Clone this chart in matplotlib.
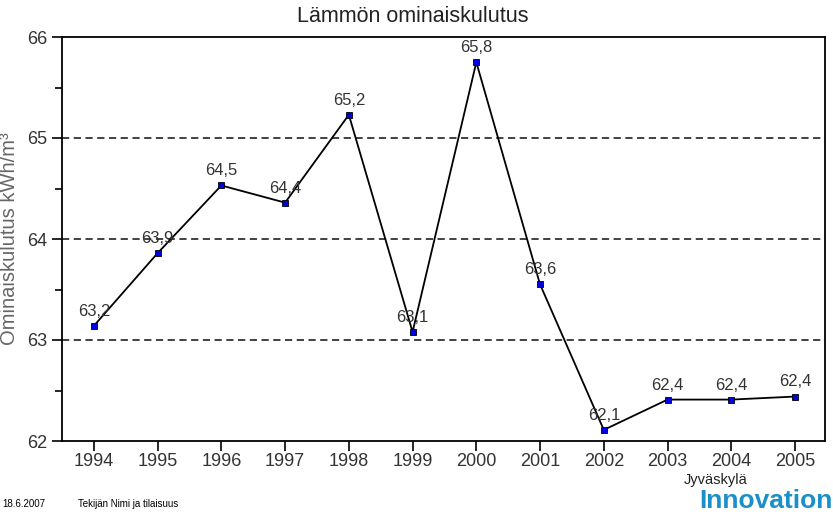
import matplotlib
matplotlib.use("Agg")
import matplotlib.pyplot as plt
from matplotlib.ticker import MultipleLocator

years = [1994, 1995, 1996, 1997, 1998, 1999, 2000, 2001, 2002, 2003, 2004, 2005]
values = [63.14, 63.86, 64.53, 64.36, 65.23, 63.08, 65.75, 63.55, 62.11, 62.41, 62.41, 62.44]
labels = ["63,2", "63,9", "64,5", "64,4", "65,2", "63,1", "65,8", "63,6", "62,1", "62,4", "62,4", "62,4"]

plt.rcParams['font.family'] = ['Liberation Sans', 'DejaVu Sans']

fig = plt.figure(figsize=(8.33, 5.12), dpi=100)
ax = fig.add_axes([62/833, 1-441/512, (825-62)/833, (441-37)/512])

ax.plot(years, values, color="black", lw=1.3, marker="s", ms=5,
        markerfacecolor="#0000e0", markeredgecolor="black", markeredgewidth=0.6)
for x, y, t in zip(years, values, labels):
    ax.text(x, y + 0.07, t, ha="center", va="bottom", fontsize=12, color="#333333")

ax.set_xlim(1993.5, 2005.47)
ax.set_ylim(62, 66)
ax.set_xticks(years)
ax.yaxis.set_major_locator(MultipleLocator(1))
ax.yaxis.set_minor_locator(MultipleLocator(0.5))
for y in [63, 64, 65]:
    ax.axhline(y, color="#333333", lw=1.3, ls=(0, (4, 2.5)), zorder=0)
ax.tick_params(axis="both", which="major", labelsize=13, length=7, width=1.2, colors="black", labelcolor="#333333")
ax.tick_params(axis="y", which="minor", length=5, width=1.2)
ax.tick_params(axis="x", pad=2)
for s in ax.spines.values():
    s.set_linewidth(1.3)
ax.set_ylabel("Ominaiskulutus kWh/m³", fontsize=14.5, color="#666666", labelpad=6)
fig.text(413/833, 1-16/512, "Lämmön ominaiskulutus", ha="center", va="center", fontsize=15.5, color="#222222")

fig.text(2/833, 1-504/512, "18.6.2007", fontsize=7, va="center")
fig.text(78/833, 1-504/512, "Tekijän Nimi ja tilaisuus", fontsize=7, va="center")
fig.text(716/833, 1-480/512, "Jyväskylä", fontsize=10.5, va="center", ha="center", color="#222222")
fig.text(833/833, 1-501/512, "Innovation", fontsize=19, va="center", ha="right", color="#1a8fc9",
         fontweight="bold")

fig.savefig("out.png", dpi=100)
